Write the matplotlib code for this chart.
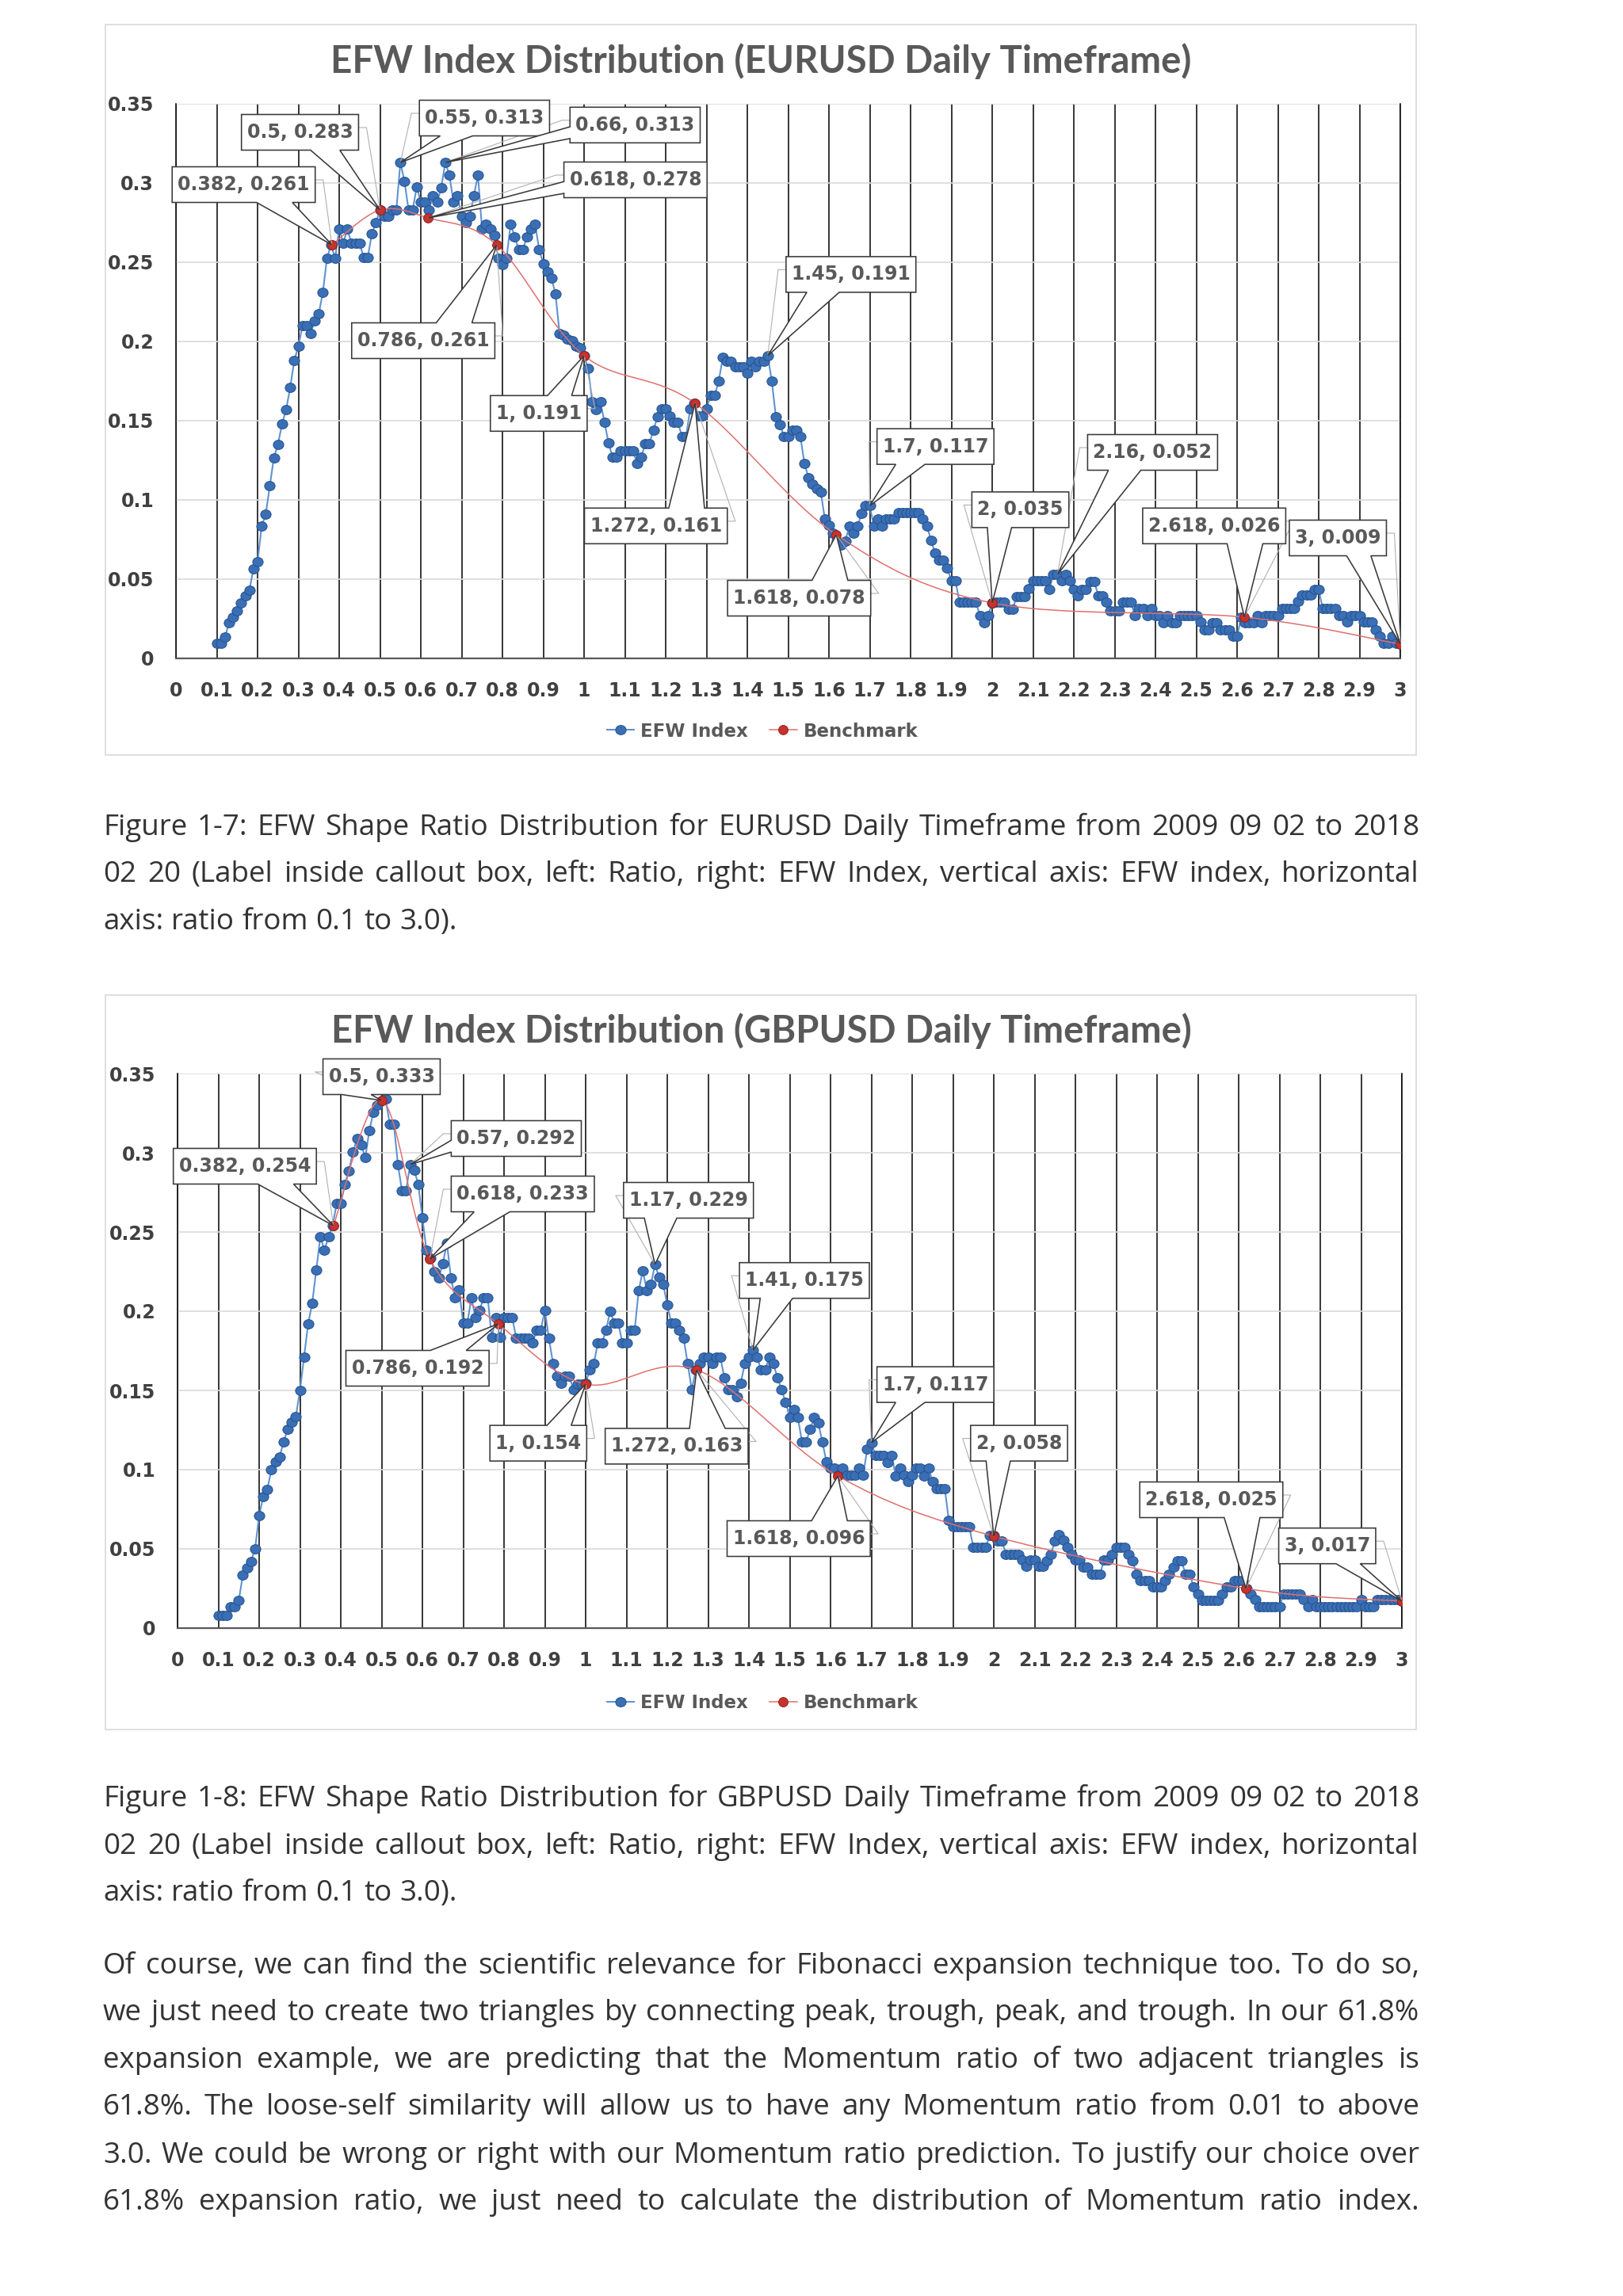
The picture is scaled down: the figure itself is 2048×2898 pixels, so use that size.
import numpy as np
import matplotlib
matplotlib.use("Agg")
import matplotlib.pyplot as plt
from matplotlib.path import Path
from matplotlib.patches import PathPatch, Rectangle, Polygon
from matplotlib.lines import Line2D

# ---------------------------------------------------------------- data
ratio = [round(0.10 + 0.01 * i, 2) for i in range(291)]   # categories 0.10 .. 3.00

eur_efw = [
    0.0095, 0.0095, 0.0133, 0.0223, 0.026, 0.030, 0.035, 0.0395, 0.043, 0.0567,
    0.061, 0.0833, 0.091, 0.109, 0.1267, 0.135, 0.148, 0.157, 0.171, 0.188,
    0.197, 0.210, 0.210, 0.205, 0.213, 0.2175, 0.231, 0.2525, 0.261, 0.2525,
    0.271, 0.262, 0.271, 0.262, 0.262, 0.262, 0.253, 0.253, 0.268, 0.275,
    0.283, 0.279, 0.279, 0.283, 0.283, 0.313, 0.301, 0.283, 0.283, 0.2975,
    0.288, 0.288, 0.283, 0.292, 0.288, 0.297, 0.313, 0.305, 0.288, 0.292,
    0.279, 0.275, 0.279, 0.292, 0.305, 0.271, 0.274, 0.271, 0.267, 0.2525,
    0.2483, 0.2525, 0.274, 0.266, 0.258, 0.258, 0.266, 0.271, 0.274, 0.258,
    0.249, 0.244, 0.240, 0.230, 0.205, 0.204, 0.2015, 0.2005, 0.197, 0.196,
    0.191, 0.183, 0.162, 0.157, 0.162, 0.149, 0.136, 0.127, 0.127, 0.131,
    0.131, 0.131, 0.131, 0.123, 0.127, 0.1355, 0.1355, 0.144, 0.1525, 0.1575,
    0.1575, 0.153, 0.149, 0.149, 0.140, 0.140, 0.1575, 0.161, 0.153, 0.153,
    0.1575, 0.166, 0.166, 0.175, 0.190, 0.1875, 0.1875, 0.184, 0.184, 0.184,
    0.180, 0.1875, 0.184, 0.1875, 0.1875, 0.191, 0.175, 0.1525, 0.1475, 0.140,
    0.140, 0.144, 0.144, 0.140, 0.123, 0.114, 0.110, 0.107, 0.105, 0.088,
    0.084, 0.079, 0.074, 0.0713, 0.074, 0.0835, 0.079, 0.0835, 0.0913, 0.0963,
    0.0963, 0.0835, 0.088, 0.0835, 0.088, 0.088, 0.088, 0.0918, 0.0918, 0.0918,
    0.0918, 0.0918, 0.0918, 0.088, 0.0835, 0.0747, 0.0663, 0.0622, 0.0622, 0.057,
    0.0488, 0.0488, 0.0355, 0.0355, 0.0355, 0.0355, 0.0355, 0.027, 0.0225, 0.027,
    0.035, 0.0355, 0.0355, 0.0355, 0.031, 0.031, 0.039, 0.039, 0.039, 0.044,
    0.0488, 0.0488, 0.0488, 0.0488, 0.0435, 0.053, 0.053, 0.0488, 0.053, 0.0488,
    0.0435, 0.0397, 0.0435, 0.0435, 0.0485, 0.0485, 0.0397, 0.0397, 0.0355, 0.030,
    0.030, 0.030, 0.0355, 0.0355, 0.0355, 0.0268, 0.0313, 0.0313, 0.0268, 0.0313,
    0.0268, 0.0268, 0.0225, 0.0268, 0.0225, 0.0225, 0.0268, 0.0268, 0.0268, 0.0268,
    0.0268, 0.023, 0.018, 0.018, 0.0225, 0.0225, 0.018, 0.018, 0.018, 0.0138,
    0.0138, 0.026, 0.0225, 0.0225, 0.0225, 0.027, 0.0225, 0.027, 0.027, 0.027,
    0.027, 0.0313, 0.0313, 0.0313, 0.0313, 0.0358, 0.040, 0.040, 0.040, 0.0435,
    0.0435, 0.0313, 0.0313, 0.0313, 0.0313, 0.027, 0.027, 0.023, 0.027, 0.027,
    0.027, 0.023, 0.023, 0.023, 0.018, 0.0138, 0.0097, 0.0097, 0.0138, 0.0097,
    0.009,
]

gbp_efw = [
    0.008, 0.008, 0.008, 0.0134, 0.0134, 0.0173, 0.0334, 0.038, 0.042, 0.050,
    0.071, 0.083, 0.0876, 0.100, 0.105, 0.108, 0.1175, 0.1256, 0.130, 0.1336,
    0.150, 0.171, 0.192, 0.205, 0.226, 0.247, 0.2385, 0.247, 0.254, 0.268,
    0.268, 0.280, 0.2887, 0.3007, 0.3088, 0.305, 0.297, 0.314, 0.3256, 0.330,
    0.333, 0.334, 0.318, 0.318, 0.2926, 0.276, 0.276, 0.2926, 0.289, 0.280,
    0.2588, 0.2385, 0.2334, 0.225, 0.221, 0.230, 0.243, 0.221, 0.2085, 0.2136,
    0.1924, 0.1924, 0.2085, 0.196, 0.2005, 0.2085, 0.2085, 0.1836, 0.196, 0.1836,
    0.196, 0.196, 0.196, 0.183, 0.183, 0.183, 0.183, 0.180, 0.188, 0.188,
    0.2005, 0.183, 0.167, 0.159, 0.1547, 0.159, 0.159, 0.1505, 0.154, 0.154,
    0.1547, 0.163, 0.167, 0.180, 0.180, 0.188, 0.200, 0.1925, 0.1925, 0.180,
    0.180, 0.188, 0.188, 0.213, 0.2255, 0.213, 0.217, 0.2295, 0.2213, 0.217,
    0.204, 0.1925, 0.1925, 0.188, 0.183, 0.167, 0.1505, 0.163, 0.167, 0.171,
    0.171, 0.167, 0.171, 0.171, 0.158, 0.1505, 0.1505, 0.146, 0.1547, 0.167,
    0.171, 0.1755, 0.171, 0.163, 0.163, 0.171, 0.167, 0.158, 0.1505, 0.1425,
    0.133, 0.138, 0.133, 0.1175, 0.1175, 0.1255, 0.133, 0.1295, 0.1175, 0.105,
    0.101, 0.101, 0.0967, 0.101, 0.0967, 0.0967, 0.0967, 0.101, 0.0967, 0.113,
    0.117, 0.109, 0.109, 0.109, 0.1045, 0.109, 0.096, 0.101, 0.0967, 0.0925,
    0.0967, 0.101, 0.101, 0.096, 0.101, 0.0925, 0.088, 0.088, 0.088, 0.0678,
    0.0638, 0.0638, 0.0638, 0.0638, 0.0638, 0.0508, 0.0508, 0.0508, 0.0508, 0.0583,
    0.0583, 0.055, 0.055, 0.0467, 0.0467, 0.0467, 0.0467, 0.0428, 0.0388, 0.0428,
    0.0428, 0.0388, 0.0388, 0.0425, 0.0467, 0.055, 0.0592, 0.0555, 0.0508, 0.0467,
    0.0428, 0.0428, 0.0383, 0.0383, 0.0338, 0.0338, 0.0338, 0.0428, 0.0428, 0.0467,
    0.0508, 0.0508, 0.0508, 0.0467, 0.0425, 0.034, 0.030, 0.030, 0.030, 0.0258,
    0.0258, 0.0258, 0.030, 0.034, 0.0383, 0.0425, 0.0425, 0.034, 0.034, 0.0258,
    0.0217, 0.0175, 0.0175, 0.0175, 0.0175, 0.0175, 0.0217, 0.0258, 0.0258, 0.030,
    0.030, 0.030, 0.025, 0.0217, 0.0178, 0.0133, 0.0133, 0.0133, 0.0133, 0.0133,
    0.0133, 0.0217, 0.0217, 0.0217, 0.0217, 0.0217, 0.0178, 0.0133, 0.0178, 0.0133,
    0.0133, 0.0133, 0.0133, 0.0133, 0.0133, 0.0133, 0.0133, 0.0133, 0.0133, 0.0133,
    0.0178, 0.0133, 0.0133, 0.0133, 0.0178, 0.0178, 0.0178, 0.0178, 0.0178, 0.0178,
    0.017,
]

bench_ratio = [0.382, 0.5, 0.618, 0.786, 1, 1.272, 1.618, 2, 2.618, 3]
eur_bench = [0.261, 0.283, 0.278, 0.261, 0.191, 0.161, 0.078, 0.035, 0.026, 0.009]
gbp_bench = [0.254, 0.333, 0.233, 0.192, 0.154, 0.163, 0.096, 0.058, 0.025, 0.017]

xtick_values = [round(0.1 * i, 1) for i in range(31)]
xtick_labels = ["0", "0.1", "0.2", "0.3", "0.4", "0.5", "0.6", "0.7", "0.8", "0.9",
                "1", "1.1", "1.2", "1.3", "1.4", "1.5", "1.6", "1.7", "1.8", "1.9",
                "2", "2.1", "2.2", "2.3", "2.4", "2.5", "2.6", "2.7", "2.8", "2.9", "3"]
ytick_values = [0, 0.05, 0.1, 0.15, 0.2, 0.25, 0.3, 0.35]
ytick_labels = ["0", "0.05", "0.1", "0.15", "0.2", "0.25", "0.3", "0.35"]

# callout texts and the ratio each one points to
eur_labels = ["0.382, 0.261", "0.5, 0.283", "0.55, 0.313", "0.66, 0.313", "0.618, 0.278",
              "0.786, 0.261", "1, 0.191", "1.272, 0.161", "1.45, 0.191", "1.618, 0.078",
              "1.7, 0.117", "2, 0.035", "2.16, 0.052", "2.618, 0.026", "3, 0.009"]
eur_label_ratio = [0.382, 0.5, 0.55, 0.66, 0.618, 0.786, 1, 1.272, 1.45, 1.618,
                   1.7, 2, 2.16, 2.618, 3]
gbp_labels = ["0.382, 0.254", "0.5, 0.333", "0.57, 0.292", "0.618, 0.233", "0.786, 0.192",
              "1, 0.154", "1.17, 0.229", "1.272, 0.163", "1.41, 0.175", "1.618, 0.096",
              "1.7, 0.117", "2, 0.058", "2.618, 0.025", "3, 0.017"]
gbp_label_ratio = [0.382, 0.5, 0.57, 0.618, 0.786, 1, 1.17, 1.272, 1.41, 1.618,
                   1.7, 2, 2.618, 3]

titles = ["EFW Index Distribution (EURUSD Daily Timeframe)",
          "EFW Index Distribution (GBPUSD Daily Timeframe)"]
series_names = ["EFW Index", "Benchmark"]

caption1 = ["Figure 1-7: EFW Shape Ratio Distribution for EURUSD Daily Timeframe from 2009 09 02 to 2018",
            "02 20 (Label inside callout box, left: Ratio, right: EFW Index, vertical axis: EFW index, horizontal",
            "axis: ratio from 0.1 to 3.0)."]
caption2 = ["Figure 1-8: EFW Shape Ratio Distribution for GBPUSD Daily Timeframe from 2009 09 02 to 2018",
            "02 20 (Label inside callout box, left: Ratio, right: EFW Index, vertical axis: EFW index, horizontal",
            "axis: ratio from 0.1 to 3.0)."]
paragraph = ["Of course, we can find the scientific relevance for Fibonacci expansion technique too. To do so,",
             "we just need to create two triangles by connecting peak, trough, peak, and trough. In our 61.8%",
             "expansion example, we are predicting that the Momentum ratio of two adjacent triangles is",
             "61.8%. The loose-self similarity will allow us to have any Momentum ratio from 0.01 to above",
             "3.0. We could be wrong or right with our Momentum ratio prediction. To justify our choice over",
             "61.8% expansion ratio, we just need to calculate the distribution of Momentum ratio index."]

# ---------------------------------------------------------------- layout / style
W, H, DPI = 2048, 2898, 100
CHART_FONT = "DejaVu Sans"
TITLE_FONT = "Lato"
BODY_FONT = "Open Sans"
TICK_FS = 17
LBL_FS = 17
LEG_FS = 16.5
BLUE_LINE = "#5f93d3"
BLUE_MK = "#3a6fb5"
BLUE_EDGE = "#24508c"
RED_LINE = "#e07070"
RED_MK = "#c8322c"
RED_EDGE = "#8e1f1b"
MK_BLUE = 9.5
MK_RED = 8.5

fig = plt.figure(figsize=(W / DPI, H / DPI), dpi=DPI)
fig.patch.set_facecolor("white")
renderer = fig.canvas.get_renderer()


def fx(px):
    return px / W


def fy(py):
    return 1 - py / H


_uc = Path.unit_circle()
ELLIPSE = Path(_uc.vertices * np.array([1.12, 1.0]), _uc.codes)


def smooth_path(xs, ys):
    pts = np.column_stack([xs, ys]).astype(float)
    n = len(pts)
    verts = [pts[0]]
    codes = [Path.MOVETO]
    for i in range(n - 1):
        p0 = pts[i - 1] if i > 0 else pts[i]
        p1 = pts[i]
        p2 = pts[i + 1]
        p3 = pts[i + 2] if i + 2 < n else pts[i + 1]
        verts += [p1 + (p2 - p0) / 6.0, p2 - (p3 - p1) / 6.0, p2]
        codes += [Path.CURVE4] * 3
    return Path(np.array(verts), codes)


def callout(ax, s, tx, ty, cx, cy):
    t = ax.text(cx, cy, s, ha="center", va="center", fontsize=LBL_FS, fontweight="bold",
                color="#595959", family=CHART_FONT, zorder=14, clip_on=False)
    bb = t.get_window_extent(renderer)
    w = bb.width + 14
    h = 45
    pc = ax.transData.transform((cx, cy))
    L, R, B, T = pc[0] - w / 2, pc[0] + w / 2, pc[1] - h / 2, pc[1] + h / 2
    P = ax.transData.transform((tx, ty))
    dxn = (P[0] - pc[0]) / (w / 2)
    dyn = (P[1] - pc[1]) / (h / 2)
    p = (P[0], P[1])
    if abs(dyn) >= abs(dxn):
        f1, f2 = (0.59, 0.84) if P[0] > pc[0] else (0.16, 0.41)
        if dyn < 0:
            poly = [(L, B), (L + f1 * w, B), p, (L + f2 * w, B), (R, B), (R, T), (L, T)]
        else:
            poly = [(L, B), (R, B), (R, T), (L + f2 * w, T), p, (L + f1 * w, T), (L, T)]
    else:
        g1, g2 = (0.12, 0.45) if P[1] < pc[1] else (0.55, 0.88)
        if dxn > 0:
            poly = [(L, B), (R, B), (R, B + g1 * h), p, (R, B + g2 * h), (R, T), (L, T)]
        else:
            poly = [(L, B), (R, B), (R, T), (L, T), (L, B + g2 * h), p, (L, B + g1 * h)]
    inv = ax.transData.inverted()
    ax.add_patch(Polygon(inv.transform(np.array(poly)), closed=True, facecolor="white",
                         edgecolor="#3a3a3a", lw=1.15, zorder=12, clip_on=False))
    right = P[0] > pc[0]
    sx = R if right else L
    stub = 10 if right else -10
    lead = inv.transform(np.array([(sx, pc[1] + 6), (sx + stub, pc[1] + 6), p]))
    ax.plot(lead[:, 0], lead[:, 1], color="#b0b0b0", lw=0.8, zorder=11, clip_on=False)


def fitted_title(s, xc, yc, width_px):
    t = fig.text(fx(xc), fy(yc), s, ha="center", va="center", fontsize=30,
                 fontweight="bold", color="#595959", family=TITLE_FONT)
    w = t.get_window_extent(renderer).width
    t.set_fontsize(30 * width_px / w)


def draw_chart(frame, axbox, title, title_xy, efw, bench, labels, label_ratio, boxes, legend_xy):
    x0, y0, x1, y1 = frame
    fig.patches.append(Rectangle((fx(x0), fy(y1)), (x1 - x0) / W, (y1 - y0) / H,
                                 transform=fig.transFigure, fill=False,
                                 edgecolor="#d9d9d9", lw=1.2))
    l, t_, r, b = axbox
    ax = fig.add_axes([fx(l), fy(b), (r - l) / W, (b - t_) / H])
    ax.set_xlim(0, 3)
    ax.set_ylim(0, 0.35)
    ax.set_xticks(xtick_values)
    ax.set_xticklabels(xtick_labels)
    ax.set_yticks(ytick_values)
    ax.set_yticklabels(ytick_labels)
    for lab in ax.get_xticklabels() + ax.get_yticklabels():
        lab.set_fontsize(TICK_FS)
        lab.set_fontweight("bold")
        lab.set_color("#404040")
        lab.set_family(CHART_FONT)
    ax.tick_params(axis="both", length=0)
    ax.tick_params(axis="x", pad=21)
    ax.tick_params(axis="y", pad=20)
    ax.set_axisbelow(True)
    ax.grid(axis="x", color="black", lw=1.1)
    ax.grid(axis="y", color="#d9d9d9", lw=1.2)
    ax.spines["top"].set_visible(False)
    ax.spines["left"].set_color("black")
    ax.spines["left"].set_linewidth(1.1)
    ax.spines["right"].set_color("black")
    ax.spines["right"].set_linewidth(1.1)
    ax.spines["bottom"].set_color("#595959")
    ax.spines["bottom"].set_linewidth(1.6)

    ax.plot(ratio, efw, color=BLUE_LINE, lw=1.5, zorder=3)
    ax.plot(ratio, efw, ls="none", marker=ELLIPSE, ms=MK_BLUE, mfc=BLUE_MK, mec=BLUE_EDGE,
            mew=0.7, zorder=4)
    ax.add_patch(PathPatch(smooth_path(bench_ratio, bench), fill=False, edgecolor=RED_LINE,
                           lw=1.1, zorder=5))
    ax.plot(bench_ratio, bench, ls="none", marker="o", ms=MK_RED, mfc=RED_MK, mec=RED_EDGE,
            mew=0.7, zorder=6)
    ax.set_xlim(0, 3)
    ax.set_ylim(0, 0.35)

    fitted_title(title, title_xy[0], title_xy[1], 1086)

    h_blue = Line2D([], [], color=BLUE_LINE, lw=1.5, marker=ELLIPSE, ms=MK_BLUE, mfc=BLUE_MK,
                    mec=BLUE_EDGE, mew=0.7)
    h_red = Line2D([], [], color=RED_LINE, lw=1.1, marker="o", ms=MK_RED, mfc=RED_MK,
                   mec=RED_EDGE, mew=0.7)
    leg = ax.legend([h_blue, h_red], series_names, loc="center",
                    bbox_to_anchor=(fx(legend_xy[0]), fy(legend_xy[1])),
                    bbox_transform=fig.transFigure, ncol=2, frameon=False,
                    prop={"family": CHART_FONT, "weight": "bold", "size": LEG_FS},
                    handlelength=1.5, handletextpad=0.35, columnspacing=1.2)
    for txt in leg.get_texts():
        txt.set_color("#595959")

    lookup = dict(zip(ratio, efw))
    blookup = dict(zip(bench_ratio, bench))
    for s, rr, (cx, cy) in zip(labels, label_ratio, boxes):
        ty = blookup[rr] if rr in blookup else lookup[round(rr, 2)]
        callout(ax, s, rr, ty, cx, cy)
    return ax


# callout box centres (data coordinates) - layout only
eur_boxes = [(0.166, 0.299), (0.304, 0.332), (0.756, 0.341), (1.125, 0.3366), (1.126, 0.302),
             (0.606, 0.2005), (0.889, 0.1546), (1.176, 0.0836), (1.654, 0.2423), (1.527, 0.038),
             (1.861, 0.1337), (2.069, 0.0938), (2.393, 0.130), (2.544, 0.0836), (2.847, 0.076)]
gbp_boxes = [(0.165, 0.2915), (0.500, 0.3480), (0.830, 0.309), (0.846, 0.274), (0.588, 0.164),
             (0.884, 0.1167), (1.252, 0.270), (1.223, 0.1148), (1.536, 0.2194), (1.522, 0.0565),
             (1.857, 0.1537), (2.062, 0.1167), (2.533, 0.081), (2.817, 0.0519)]

draw_chart((133, 31, 1787, 953), (222, 131, 1767, 831), titles[0], (960, 77),
           eur_efw, eur_bench, eur_labels, eur_label_ratio, eur_boxes, (962, 923))
draw_chart((133, 1256, 1787, 2183), (224, 1355, 1769, 2055), titles[1], (961, 1301),
           gbp_efw, gbp_bench, gbp_labels, gbp_label_ratio, gbp_boxes, (962, 2150))

# ---------------------------------------------------------------- body text
XL, XR = 130, 1791
ref = fig.text(0, 0, caption1[2], fontsize=20, family=BODY_FONT)
ref_w = ref.get_window_extent(renderer).width
ref.remove()
BODY_FS = 20 * 446.0 / ref_w
sp = fig.text(0, 0, "a a", fontsize=BODY_FS, family=BODY_FONT)
aa = fig.text(0, 0, "aa", fontsize=BODY_FS, family=BODY_FONT)
SPACE_W = sp.get_window_extent(renderer).width - aa.get_window_extent(renderer).width
sp.remove()
aa.remove()


def body_line(s, yc, justify):
    words = s.split()
    kw = dict(fontsize=BODY_FS, family=BODY_FONT, color="#333333", va="baseline", ha="left")
    ts = [fig.text(0, 0, w_, **kw) for w_ in words]
    ws = [t.get_window_extent(renderer).width for t in ts]
    gap = (XR - XL - sum(ws)) / (len(words) - 1) if (justify and len(words) > 1) else SPACE_W
    base = yc + 0.36 * BODY_FS * DPI / 72
    x = XL
    for t, w_ in zip(ts, ws):
        t.set_position((fx(x), fy(base)))
        x += w_ + gap


for s, yc, j in zip(caption1, [1041, 1100, 1160], [True, True, False]):
    body_line(s, yc, j)
for s, yc, j in zip(caption2, [2267, 2327, 2386], [True, True, False]):
    body_line(s, yc, j)
for s, yc in zip(paragraph, [2478, 2537, 2597, 2656, 2717, 2776]):
    body_line(s, yc, True)

fig.savefig("out.png", dpi=DPI, facecolor="white")
